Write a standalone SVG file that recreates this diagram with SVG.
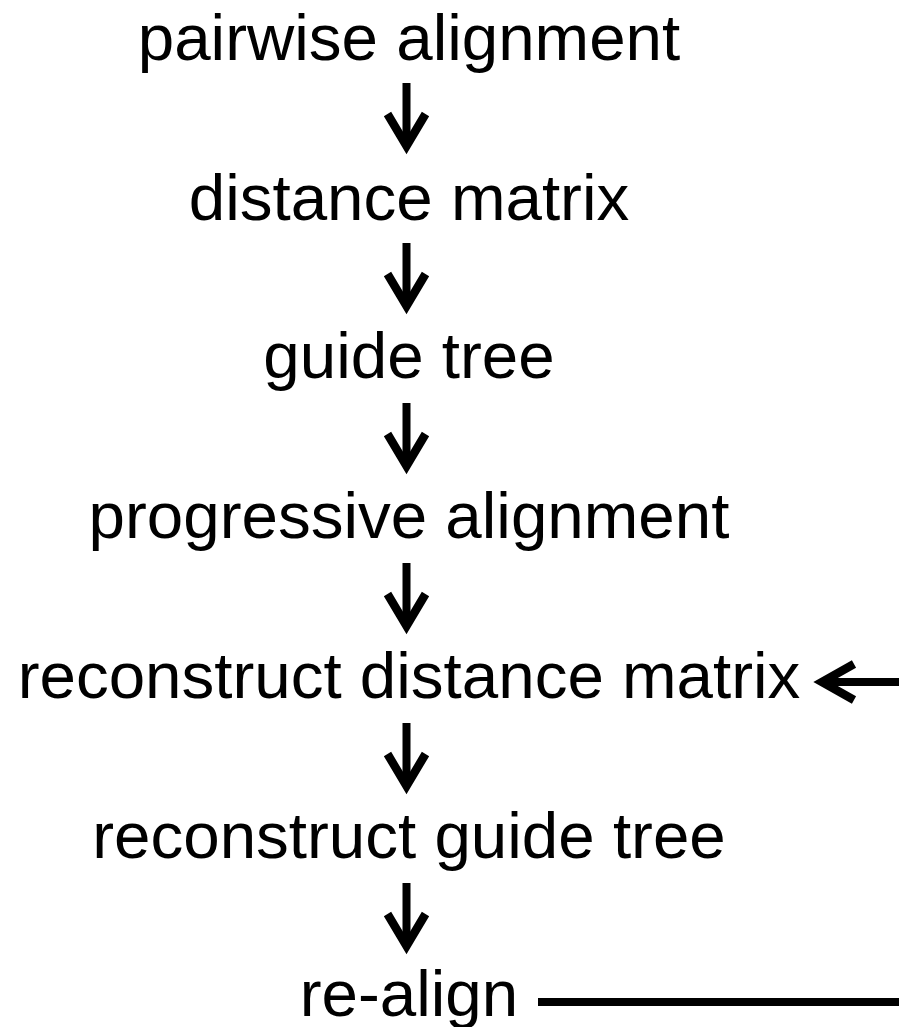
<svg xmlns="http://www.w3.org/2000/svg" width="899" height="1027" viewBox="0 0 899 1027">
  <style>
    .label { font-family: "Liberation Sans", Arial, Helvetica, sans-serif; font-size: 65.5px; fill: #000; text-anchor: middle; }
    .shaft { stroke: #000; stroke-width: 8; fill: none; }
    .head { stroke: #000; stroke-width: 8.5; fill: none; stroke-linejoin: miter; stroke-miterlimit: 10; }
  </style>
  <defs>
    <g id="down-arrow">
      <line class="shaft" x1="0" y1="0" x2="0" y2="62"/>
      <polyline class="head" points="-19,31 0,63 19,31"/>
    </g>
  </defs>
  <rect width="899" height="1027" fill="#fff"/>

  <g id="node-pairwise"><text class="label" x="409" y="60">pairwise alignment</text></g>
  <g id="node-distance"><text class="label" x="409" y="220">distance matrix</text></g>
  <g id="node-guide"><text class="label" x="409" y="378">guide tree</text></g>
  <g id="node-progressive"><text class="label" x="409" y="538">progressive alignment</text></g>
  <g id="node-recon-distance"><text class="label" x="409" y="698">reconstruct distance matrix</text></g>
  <g id="node-recon-guide"><text class="label" x="409" y="858">reconstruct guide tree</text></g>
  <g id="node-realign"><text class="label" x="409" y="1016">re-align</text></g>

  <g id="connectors">
    <use href="#down-arrow" x="406.5" y="83"/>
    <use href="#down-arrow" x="406.5" y="243"/>
    <use href="#down-arrow" x="406.5" y="403"/>
    <use href="#down-arrow" x="406.5" y="563"/>
    <use href="#down-arrow" x="406.5" y="723"/>
    <use href="#down-arrow" x="406.5" y="883"/>
    <!-- feedback loop from re-align back to the distance matrix step -->
    <line class="shaft" x1="538" y1="1002" x2="899" y2="1002"/>
    <line class="shaft" x1="824" y1="682" x2="899" y2="682"/>
    <polyline class="head" points="854,664 822,682 854,700"/>
  </g>
</svg>
